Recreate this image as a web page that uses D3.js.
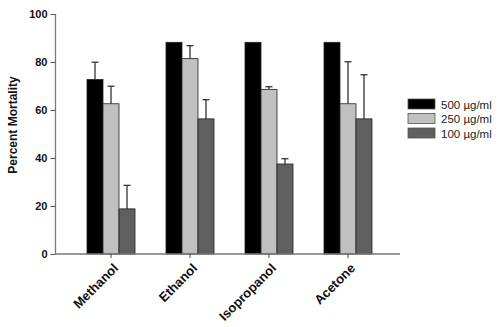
<!DOCTYPE html>
<html><head><meta charset="utf-8">
<script src="https://cdn.jsdelivr.net/npm/d3@7"></script>
<style>body{margin:0;background:#fff}svg{display:block}</style>
</head><body>
<svg id="c" width="500" height="327"></svg>
<script>
const categories = ["Methanol","Ethanol","Isopropanol","Acetone"];
const series = ["500 µg/ml","250 µg/ml","100 µg/ml"];
const values500 = [72.7, 88.2, 88.2, 88.2];
const err500    = [7.2, 0, 0, 0];
const values250 = [62.6, 81.4, 68.6, 62.6];
const err250    = [7.3, 5.4, 1.1, 17.5];
const values100 = [18.8, 56.3, 37.5, 56.3];
const err100    = [9.8, 8.0, 2.2, 18.4];
const yTicks = [0,20,40,60,80,100];
const colors = ["#000000","#c0c0c0","#606060"];

const vals = [values500, values250, values100];
const errs = [err500, err250, err100];
const FF = "Liberation Sans, Arial, sans-serif";

const svg = d3.select("#c");
const x0 = 55.5, x1 = 400, yTop = 14, yBot = 254;
const y = d3.scaleLinear().domain([0,100]).range([yBot, yTop]);
const x = d3.scaleBand().domain(categories).range([71.5, 387.5]);
const xs = d3.scaleBand().domain(series).range([x.bandwidth()/2 - 24, x.bandwidth()/2 + 24]);

// bars
categories.forEach((c, ci) => {
  series.forEach((s, si) => {
    const v = vals[si][ci], e = errs[si][ci];
    const bx = x(c) + xs(s);
    const cx = bx + xs.bandwidth()/2;
    if (e > 0) {
      svg.append("line").attr("x1", cx).attr("x2", cx).attr("y1", y(v)).attr("y2", y(v+e))
        .attr("stroke", "#333").attr("stroke-width", 1.3);
      svg.append("line").attr("x1", cx-3.5).attr("x2", cx+3.5).attr("y1", y(v+e)).attr("y2", y(v+e))
        .attr("stroke", "#333").attr("stroke-width", 1.3);
    }
    svg.append("rect").attr("x", bx).attr("y", y(v)).attr("width", xs.bandwidth()).attr("height", y(0)-y(v))
      .attr("fill", colors[si]).attr("stroke", "#222").attr("stroke-width", 0.8);
  });
});

// y axis
const ya = svg.append("g").attr("transform", `translate(${x0},0)`)
  .call(d3.axisLeft(y).tickValues(yTicks).tickSize(5).tickPadding(3));
ya.select(".domain").attr("stroke", "#777").attr("stroke-width", 1.3).attr("d", `M0,${yTop}V${yBot}`);
ya.selectAll(".tick line").attr("stroke", "#555");
ya.selectAll(".tick text").attr("font-family", FF).attr("font-size", 11)
  .attr("font-weight", "bold").attr("fill", "#111");

// x axis
const xa = svg.append("g").attr("transform", `translate(0,${yBot})`)
  .call(d3.axisBottom(x).tickSize(4).tickSizeOuter(0));
xa.select(".domain").attr("stroke", "#777").attr("stroke-width", 1.3).attr("d", `M${x0},0H${x1}`);
xa.selectAll(".tick line").attr("stroke", "#444");
xa.selectAll(".tick text").attr("font-family", FF).attr("font-size", 13)
  .attr("font-weight", "bold").attr("fill", "#111")
  .attr("text-anchor", "end").attr("dy", null).attr("y", 0)
  .attr("transform", "translate(8,15) rotate(-45)");

// y title
svg.append("text").attr("transform", `translate(17,125) rotate(-90)`)
  .attr("text-anchor", "middle").attr("font-family", FF)
  .attr("font-size", 12).attr("font-weight", "bold").attr("fill", "#111").text("Percent Mortality");

// legend
const lg = svg.append("g").attr("transform", "translate(408,99)");
series.forEach((s, i) => {
  lg.append("rect").attr("x", 0).attr("y", i*14.5).attr("width", 27).attr("height", 10)
    .attr("fill", colors[i]).attr("stroke", "#555").attr("stroke-width", 0.8);
  lg.append("text").attr("x", 33).attr("y", i*14.5 + 9.5).attr("font-family", FF)
    .attr("font-size", 11.5).attr("fill", "#222").text(s);
});
</script>
</body></html>
